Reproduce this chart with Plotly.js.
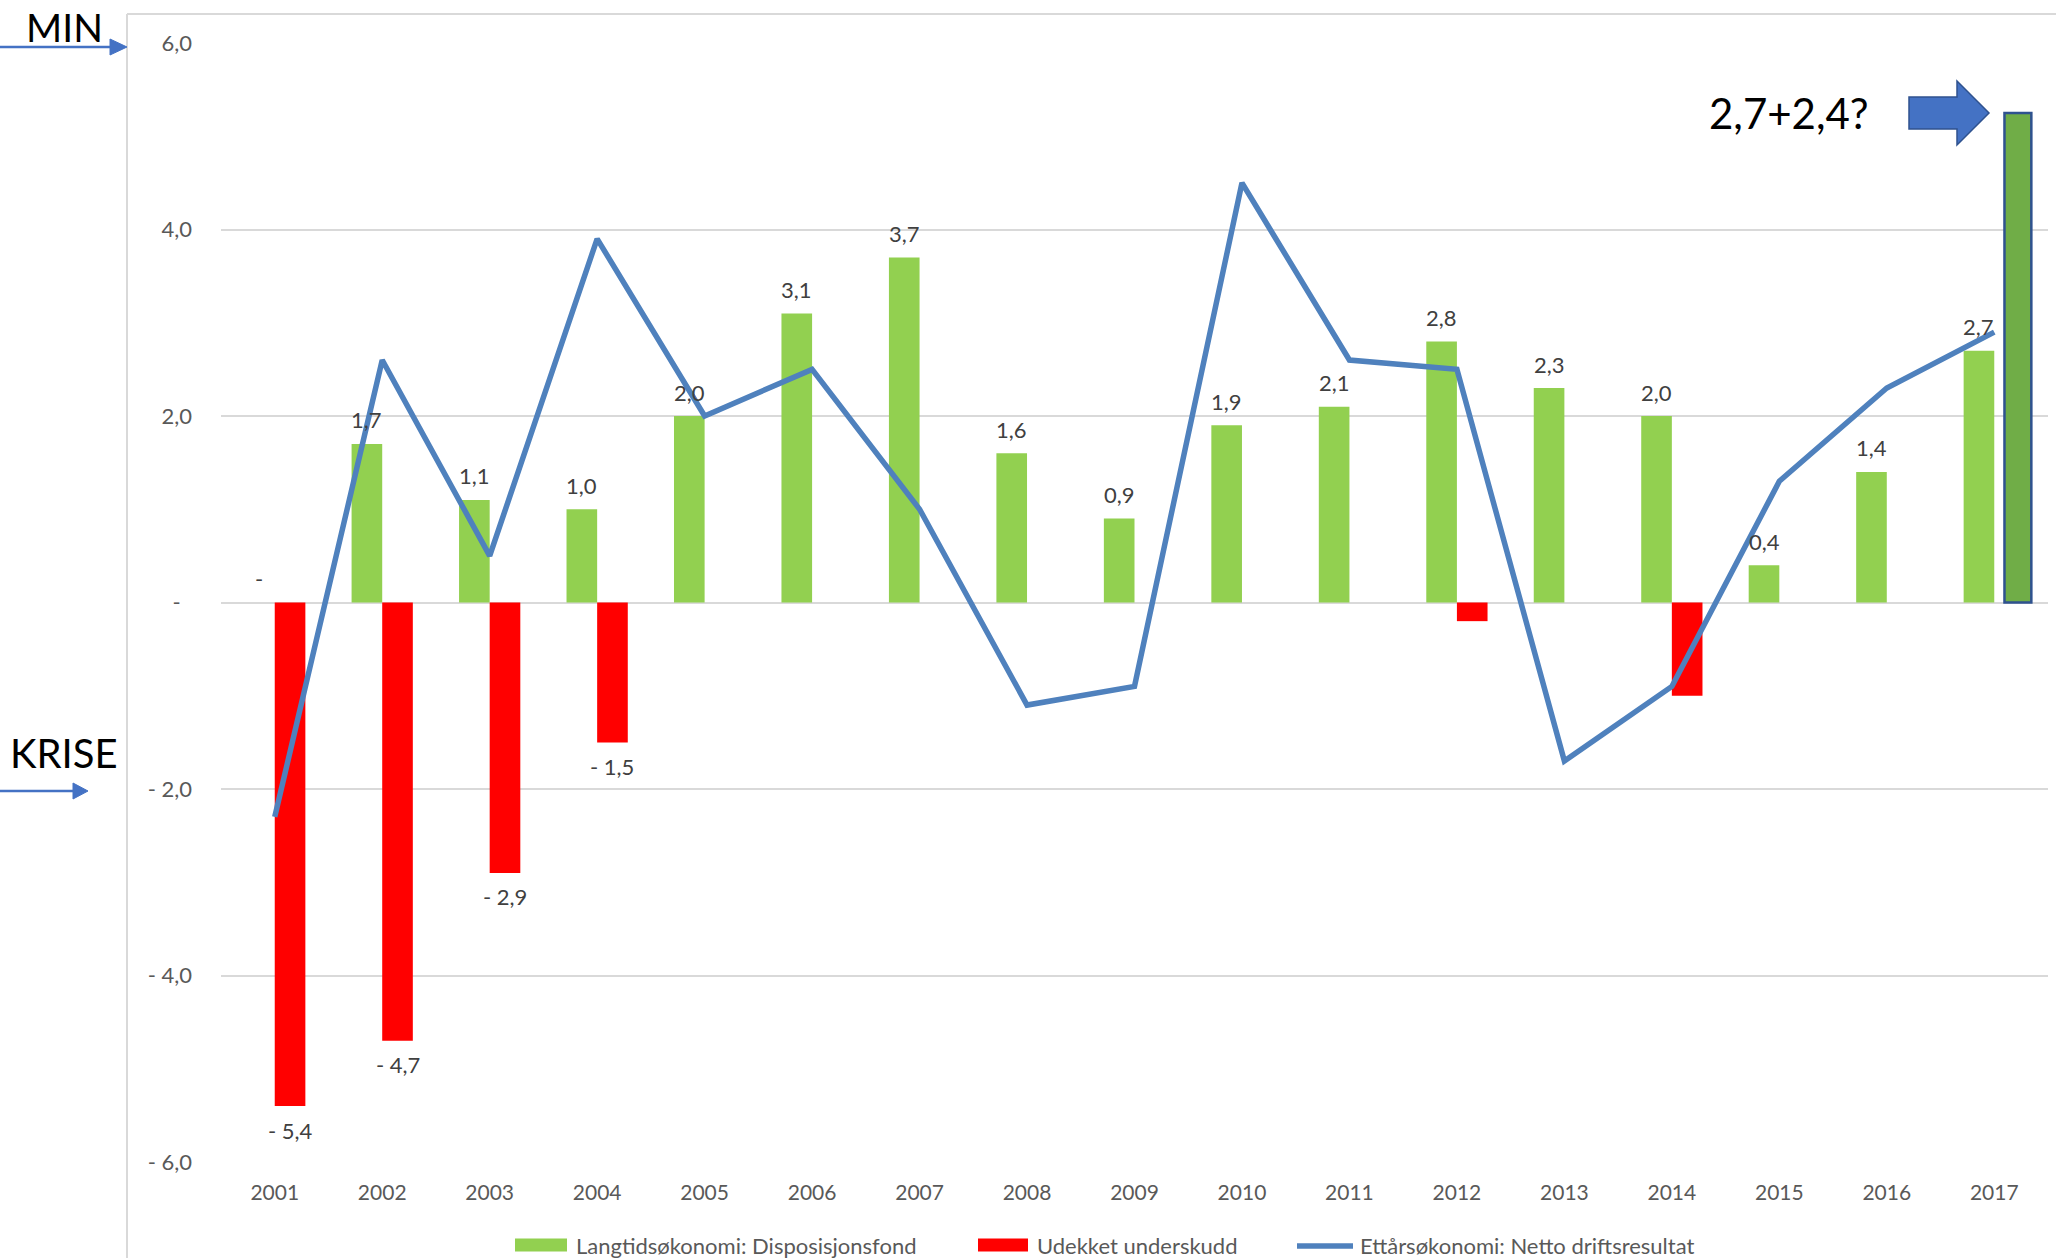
<!DOCTYPE html>
<html>
<head>
<meta charset="utf-8">
<script src="https://cdn.plot.ly/plotly-3.0.1.min.js"></script>
<style>html,body{margin:0;padding:0;background:#fff;}#chart{width:2056px;height:1258px;}</style>
</head>
<body>
<div id="chart"></div>
<script>
// ---- data ----
const years = ['2001','2002','2003','2004','2005','2006','2007','2008','2009','2010','2011','2012','2013','2014','2015','2016','2017'];
const disposisjonsfond = [0, 1.7, 1.1, 1.0, 2.0, 3.1, 3.7, 1.6, 0.9, 1.9, 2.1, 2.8, 2.3, 2.0, 0.4, 1.4, 2.7];
const disposisjonsfondLabels = ['-','1,7','1,1','1,0','2,0','3,1','3,7','1,6','0,9','1,9','2,1','2,8','2,3','2,0','0,4','1,4','2,7'];
const udekketUnderskudd = [-5.4, -4.7, -2.9, -1.5, null, null, null, null, null, null, null, -0.2, null, -1.0, null, null, null];
const udekketLabels = ['- 5,4','- 4,7','- 2,9','- 1,5','','','','','','','','','','','','',''];
const nettoDriftsresultat = [-2.3, 2.6, 0.5, 3.9, 2.0, 2.5, 1.0, -1.1, -0.9, 4.5, 2.6, 2.5, -1.7, -0.9, 1.3, 2.3, 2.9];
const forecastYear = ['2017'];
const forecastValue = [5.25];
const forecastText = '2,7+2,4?';
const yTickVals = [6, 4, 2, 0, -2, -4, -6];
const yTickText = ['6,0', '4,0', '2,0', '-\u00a0\u00a0', '- 2,0', '- 4,0', '- 6,0'];
const seriesNames = ['Langtidsøkonomi: Disposisjonsfond', 'Udekket underskudd', 'Ettårsøkonomi: Netto driftsresultat'];

// ---- geometry helpers (pixel -> paper) ----
const L = 221, R = 2048, T = 43, B = 1162;
const W = R - L, H = B - T;
const px = v => (v - L) / W;
const py = v => (B - v) / H;

const GREEN = '#92D050', RED = '#FF0000', BLUE = '#4F81BD', ARROW = '#4472C4';
const FONT = 'Lato, "Open Sans", sans-serif';
const BW = 0.285;

const traces = [
  { type: 'bar', name: seriesNames[0], x: years, y: disposisjonsfond, offset: -BW, width: BW,
    marker: { color: GREEN, line: { width: 0 } }, showlegend: false, hoverinfo: 'x+y' },
  { type: 'bar', name: seriesNames[1], x: years, y: udekketUnderskudd, offset: 0, width: BW,
    marker: { color: RED, line: { width: 0 } }, showlegend: false, hoverinfo: 'x+y' },
  { type: 'bar', name: 'Prognose', x: forecastYear, y: forecastValue, offset: 0.095, width: 0.25,
    marker: { color: '#70AD47', line: { width: 2.5, color: '#2F528F' } }, showlegend: false, hoverinfo: 'x+y' },
  { type: 'scatter', mode: 'lines', name: seriesNames[2], x: years, y: nettoDriftsresultat,
    line: { color: BLUE, width: 5.5 }, showlegend: false, hoverinfo: 'x+y' }
];

const annotations = [];
years.forEach((yr, i) => {
  if (disposisjonsfondLabels[i]) {
    annotations.push({ x: i - BW / 2, y: disposisjonsfond[i], xref: 'x', yref: 'y',
      xanchor: 'center', yanchor: 'middle',
      text: disposisjonsfondLabels[i], showarrow: false, yshift: 24,
      font: { family: FONT, size: 22, color: '#404040' } });
  }
  if (udekketLabels[i]) {
    annotations.push({ x: i + BW / 2, y: udekketUnderskudd[i], xref: 'x', yref: 'y',
      xanchor: 'center', yanchor: 'middle',
      text: udekketLabels[i], showarrow: false, yshift: -24,
      font: { family: FONT, size: 22, color: '#404040' } });
  }
});
// side texts
annotations.push({ xref: 'paper', yref: 'paper', x: px(64), y: py(27), xanchor: 'center', yanchor: 'middle',
  text: 'MIN', showarrow: false, borderpad: 0, font: { family: FONT, size: 39, color: '#000' } });
annotations.push({ xref: 'paper', yref: 'paper', x: px(64), y: py(753), xanchor: 'center', yanchor: 'middle',
  text: 'KRISE', showarrow: false, font: { family: FONT, size: 40, color: '#000' } });
annotations.push({ xref: 'paper', yref: 'paper', x: px(1789), y: py(113), xanchor: 'center', yanchor: 'middle',
  text: forecastText, showarrow: false, font: { family: FONT, size: 42, color: '#000' } });

// custom legend
const legY = 1245;
const legItems = [
  { sx0: 515, sx1: 567, tx: 574, kind: 'bar', color: GREEN, text: seriesNames[0] },
  { sx0: 978, sx1: 1028, tx: 1035, kind: 'bar', color: RED, text: seriesNames[1] },
  { sx0: 1297, sx1: 1353, tx: 1358, kind: 'line', color: BLUE, text: seriesNames[2] }
];
const shapes = [];
legItems.forEach(it => {
  if (it.kind === 'bar') {
    shapes.push({ type: 'rect', xref: 'paper', yref: 'paper', x0: px(it.sx0), x1: px(it.sx1),
      y0: py(legY - 6.5), y1: py(legY + 6.5), fillcolor: it.color, line: { width: 0 } });
  } else {
    shapes.push({ type: 'line', xref: 'paper', yref: 'paper', x0: px(it.sx0), x1: px(it.sx1),
      y0: py(legY + 1), y1: py(legY + 1), line: { color: it.color, width: 5.5 } });
  }
  annotations.push({ xref: 'paper', yref: 'paper', x: px(it.tx), y: py(legY), xanchor: 'left', yanchor: 'middle',
    text: it.text, showarrow: false, font: { family: FONT, size: 22, color: '#595959' } });
});

// chart frame (left & top)
shapes.push({ type: 'line', xref: 'paper', yref: 'paper', x0: px(127), x1: px(127), y0: py(14), y1: py(1270),
  line: { color: '#D9D9D9', width: 2 }, layer: 'below' });
shapes.push({ type: 'line', xref: 'paper', yref: 'paper', x0: px(127), x1: px(2060), y0: py(14), y1: py(14),
  line: { color: '#D9D9D9', width: 2 }, layer: 'below' });

// MIN arrow
shapes.push({ type: 'line', xref: 'paper', yref: 'paper', x0: px(0), x1: px(112), y0: py(47), y1: py(47),
  line: { color: ARROW, width: 2.5 } });
shapes.push({ type: 'path', xref: 'paper', yref: 'paper',
  path: `M ${px(110)} ${py(39)} L ${px(127)} ${py(47)} L ${px(110)} ${py(55)} Z`,
  fillcolor: ARROW, line: { color: ARROW, width: 1 } });
// KRISE arrow
shapes.push({ type: 'line', xref: 'paper', yref: 'paper', x0: px(0), x1: px(75), y0: py(791), y1: py(791),
  line: { color: ARROW, width: 2.5 } });
shapes.push({ type: 'path', xref: 'paper', yref: 'paper',
  path: `M ${px(73)} ${py(783)} L ${px(88)} ${py(791)} L ${px(73)} ${py(799)} Z`,
  fillcolor: ARROW, line: { color: ARROW, width: 1 } });
// block arrow
shapes.push({ type: 'path', xref: 'paper', yref: 'paper',
  path: `M ${px(1909)} ${py(97)} L ${px(1957)} ${py(97)} L ${px(1957)} ${py(81)} L ${px(1989)} ${py(113)} L ${px(1957)} ${py(145)} L ${px(1957)} ${py(129)} L ${px(1909)} ${py(129)} Z`,
  fillcolor: ARROW, line: { color: '#2F528F', width: 1.5 } });

const layout = {
  width: 2056, height: 1258,
  margin: { l: L, r: 2056 - R, t: T, b: 1258 - B, pad: 0 },
  paper_bgcolor: '#fff', plot_bgcolor: '#fff',
  barmode: 'overlay',
  showlegend: false,
  font: { family: FONT, color: '#595959' },
  xaxis: {
    type: 'category', range: [-0.5, 16.5], showgrid: false, zeroline: false, showline: false,
    ticks: '', ticklabelstandoff: 16, tickfont: { family: FONT, size: 21, color: '#595959' }, fixedrange: true
  },
  yaxis: {
    range: [-6, 6], tickvals: yTickVals, ticktext: yTickText, showgrid: true, gridcolor: '#D9D9D9', gridwidth: 2,
    zeroline: true, zerolinecolor: '#D9D9D9', zerolinewidth: 2, showline: false, ticks: '',
    ticklabelstandoff: 28, tickfont: { family: FONT, size: 22, color: '#595959' }, fixedrange: true
  },
  annotations: annotations,
  shapes: shapes
};

Plotly.newPlot('chart', traces, layout, { displayModeBar: false, staticPlot: true });
</script>
</body>
</html>
